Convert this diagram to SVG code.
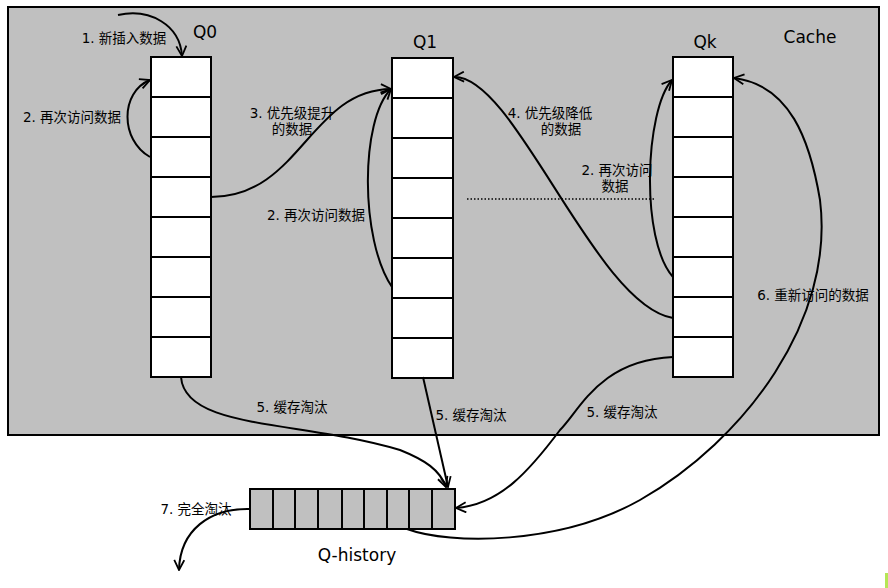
<svg xmlns="http://www.w3.org/2000/svg" width="888" height="588" viewBox="0 0 888 588">
<style>
.cell{fill:#fff;stroke:#000;stroke-width:2}
.hcell{fill:#c0c0c0;stroke:#000;stroke-width:2}
.conn{fill:none;stroke:#000;stroke-width:2}
.lbl{font-family:"DejaVu Sans","Noto Sans CJK SC",sans-serif;font-size:13.5px;fill:#000;text-anchor:middle}
.ttl{font-family:"DejaVu Sans","Noto Sans CJK SC",sans-serif;font-size:17px;fill:#000;text-anchor:middle}
</style>
<defs>
<marker id="arr" viewBox="0 0 12 12" refX="11" refY="6" markerWidth="12" markerHeight="12" markerUnits="userSpaceOnUse" orient="auto">
<path d="M1,1 L11,6 L1,11" fill="none" stroke="#000" stroke-width="1.8"/>
</marker>
</defs>
<rect width="888" height="588" fill="#fff"/>
<g id="cache">
<rect x="8" y="7" width="871" height="428" fill="#c0c0c0" stroke="#000" stroke-width="2"/>
<text class="ttl" x="810" y="43">Cache</text>
</g>
<g id="q0">
<rect class="cell" x="151" y="57" width="60" height="40"/>
<rect class="cell" x="151" y="97" width="60" height="40"/>
<rect class="cell" x="151" y="137" width="60" height="40"/>
<rect class="cell" x="151" y="177" width="60" height="40"/>
<rect class="cell" x="151" y="217" width="60" height="40"/>
<rect class="cell" x="151" y="257" width="60" height="40"/>
<rect class="cell" x="151" y="297" width="60" height="40"/>
<rect class="cell" x="151" y="337" width="60" height="40"/>
<text class="ttl" x="205" y="38">Q0</text>
</g>
<g id="q1">
<rect class="cell" x="392" y="58" width="61" height="40"/>
<rect class="cell" x="392" y="98" width="61" height="40"/>
<rect class="cell" x="392" y="138" width="61" height="40"/>
<rect class="cell" x="392" y="178" width="61" height="40"/>
<rect class="cell" x="392" y="218" width="61" height="40"/>
<rect class="cell" x="392" y="258" width="61" height="40"/>
<rect class="cell" x="392" y="298" width="61" height="40"/>
<rect class="cell" x="392" y="338" width="61" height="40"/>
<text class="ttl" x="425" y="48">Q1</text>
</g>
<g id="qk">
<rect class="cell" x="673" y="57" width="60" height="40"/>
<rect class="cell" x="673" y="97" width="60" height="40"/>
<rect class="cell" x="673" y="137" width="60" height="40"/>
<rect class="cell" x="673" y="177" width="60" height="40"/>
<rect class="cell" x="673" y="217" width="60" height="40"/>
<rect class="cell" x="673" y="257" width="60" height="40"/>
<rect class="cell" x="673" y="297" width="60" height="40"/>
<rect class="cell" x="673" y="337" width="60" height="40"/>
<text class="ttl" x="705" y="48">Qk</text>
</g>
<g id="qhistory">
<rect class="hcell" x="250" y="489" width="23" height="40"/>
<rect class="hcell" x="273" y="489" width="22" height="40"/>
<rect class="hcell" x="295" y="489" width="23" height="40"/>
<rect class="hcell" x="318" y="489" width="24" height="40"/>
<rect class="hcell" x="342" y="489" width="22" height="40"/>
<rect class="hcell" x="364" y="489" width="23" height="40"/>
<rect class="hcell" x="387" y="489" width="22" height="40"/>
<rect class="hcell" x="409" y="489" width="23" height="40"/>
<rect class="hcell" x="432" y="489" width="23" height="40"/>
<text class="ttl" x="357" y="561">Q-history</text>
</g>
<g id="connectors">
<path class="conn" d="M118,15 C150,8 180,25 182,56" marker-end="url(#arr)"/>
<path class="conn" d="M150,157 C120,140 120,92 150,80" marker-end="url(#arr)"/>
<path class="conn" d="M211,197 C300,197 310,90 391,89" marker-end="url(#arr)"/>
<path class="conn" d="M392,287 C360,240 360,120 391,89" marker-end="url(#arr)"/>
<path class="conn" d="M673,318 C595,305 515,75 454,77" marker-end="url(#arr)"/>
<path class="conn" d="M673,277 C640,240 645,110 672,80" marker-end="url(#arr)"/>
<path class="conn" d="M407,529 C450,545 560,545 640,500 C745,440 835,320 820,200 C810,140 790,85 734,78" marker-end="url(#arr)"/>
<path class="conn" d="M181,377 C185,430 300,420 400,450 C425,460 440,470 446,487" marker-end="url(#arr)"/>
<path class="conn" d="M423,377 L448,487" marker-end="url(#arr)"/>
<path class="conn" d="M673,357 C600,360 580,410 560,430 C530,470 500,505 456,508" marker-end="url(#arr)"/>
<path class="conn" d="M250,509 C210,508 180,530 179,570" marker-end="url(#arr)"/>
<line x1="467" y1="199" x2="654" y2="199" stroke="#000" stroke-width="1.5" stroke-dasharray="1.5,2"/>
</g>
<g id="labels">
<text class="lbl" x="124" y="43">1. 新插入数据</text>
<text class="lbl" x="72" y="122">2. 再次访问数据</text>
<text class="lbl" x="292" y="118">3. 优先级提升</text>
<text class="lbl" x="292" y="134">的数据</text>
<text class="lbl" x="316" y="220">2. 再次访问数据</text>
<text class="lbl" x="550" y="118">4. 优先级降低</text>
<text class="lbl" x="561" y="134">的数据</text>
<text class="lbl" x="617" y="175">2. 再次访问</text>
<text class="lbl" x="615" y="191">数据</text>
<text class="lbl" x="813" y="300">6. 重新访问的数据</text>
<text class="lbl" x="292" y="412">5. 缓存淘汰</text>
<text class="lbl" x="471" y="420">5. 缓存淘汰</text>
<text class="lbl" x="622" y="417">5. 缓存淘汰</text>
<text class="lbl" x="196" y="514">7. 完全淘汰</text>
</g>
<rect x="885" y="573" width="3" height="15" fill="#b5e655"/>
</svg>
